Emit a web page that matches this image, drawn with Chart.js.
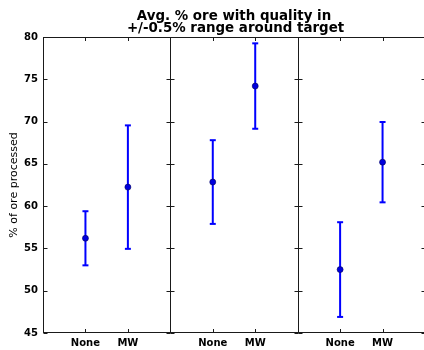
<!DOCTYPE html>
<html>
<head>
<meta charset="utf-8">
<script src="https://cdn.jsdelivr.net/npm/chart.js@4/dist/chart.umd.min.js"></script>
<style>
html,body{margin:0;padding:0;background:#fff;overflow:hidden;}
#wrap{position:relative;width:425px;height:350px;}
</style>
</head>
<body>
<div id="wrap"><canvas id="c"></canvas></div>
<script>
// ---- data ----
const titleLines = ['Avg. % ore with quality in', '+/-0.5% range around target'];
const yLabel = '% of ore processed';
const categories = ['None', 'MW'];
const panels = 3;
const means  = [56.2, 62.25, 62.85, 74.2, 52.5, 65.2];
const errors = [3.2, 7.3, 4.95, 5.05, 5.6, 4.75];
const yTicks = [45, 50, 55, 60, 65, 70, 75, 80];

// positions on a shared linear x axis: panel p occupies [3p-1, 3p+2]
const xPos = [];
const xLab = {};
for (let p = 0; p < panels; p++) {
  categories.forEach((c, i) => { xPos.push(3 * p + i); xLab[3 * p + i] = c; });
}
const boundaries = [];
for (let p = 0; p <= panels; p++) boundaries.push(3 * p - 1);

const meanPts = xPos.map((x, k) => ({x, y: means[k]}));
const barPts = [];
const capPts = [];
xPos.forEach((x, k) => {
  barPts.push({x, y: means[k] - errors[k]}, {x, y: means[k] + errors[k]}, {x, y: null});
  capPts.push({x, y: means[k] - errors[k]}, {x, y: means[k] + errors[k]});
});

const BLUE = '#0000ff';
const FRAME = '#1a1a1a';

const framePlugin = {
  id: 'frame',
  afterDatasetsDraw(chart) {
    const {ctx, chartArea: a, scales: {x, y}} = chart;
    ctx.save();
    ctx.strokeStyle = FRAME;
    ctx.lineWidth = 1;
    const L = 4;
    ctx.beginPath();
    ctx.moveTo(a.left, Math.round(a.top) + 0.5); ctx.lineTo(a.right, Math.round(a.top) + 0.5);
    ctx.moveTo(a.left, Math.round(a.bottom) - 0.5); ctx.lineTo(a.right, Math.round(a.bottom) - 0.5);
    boundaries.forEach((bv, bi) => {
      const px = Math.round(x.getPixelForValue(bv)) + 0.5;
      ctx.moveTo(px, a.top); ctx.lineTo(px, a.bottom);
      yTicks.forEach(t => {
        const py = Math.round(y.getPixelForValue(t)) + 0.5;
        if (bi < boundaries.length - 1) { ctx.moveTo(px, py); ctx.lineTo(px + L, py); }
        if (bi > 0) { ctx.moveTo(px, py); ctx.lineTo(px - L, py); }
      });
    });
    xPos.forEach(v => {
      const px = Math.round(x.getPixelForValue(v)) + 0.5;
      ctx.moveTo(px, a.top); ctx.lineTo(px, a.top + L);
      ctx.moveTo(px, a.bottom); ctx.lineTo(px, a.bottom - L);
    });
    ctx.stroke();
    ctx.fillStyle = '#000';
    ctx.font = 'bold 13.4px "DejaVu Sans"';
    ctx.textAlign = 'center';
    ctx.textBaseline = 'alphabetic';
    const cx = (a.left + a.right) / 2;
    ctx.fillText(titleLines[0], cx, 19.5);
    ctx.fillText(titleLines[1], cx + 1.5, 32);
    ctx.restore();
  }
};

new Chart(document.getElementById('c'), {
  type: 'scatter',
  data: {
    datasets: [
      {type: 'line', data: barPts, borderColor: BLUE, borderWidth: 2, pointRadius: 0, spanGaps: false, fill: false, order: 3},
      {data: capPts, pointStyle: 'line', pointRadius: 3, pointBorderWidth: 2, borderColor: BLUE, backgroundColor: BLUE, order: 2},
      {data: meanPts, pointStyle: 'circle', pointRadius: 3, pointBorderWidth: 0.6, borderColor: '#00005a', backgroundColor: '#0000dd', order: 1}
    ]
  },
  options: {
    responsive: true,
    maintainAspectRatio: false,
    animation: false,
    events: [],
    layout: {autoPadding: false, padding: {top: 37, right: 0, bottom: 0, left: 0}},
    plugins: {legend: {display: false}, tooltip: {enabled: false}, title: {display: false}},
    scales: {
      x: {
        type: 'linear', min: -1, max: 8,
        grid: {display: false, drawTicks: false},
        border: {display: false},
        afterBuildTicks: s => { s.ticks = xPos.map(v => ({value: v})); },
        afterFit: s => { s.height = 17; },
        ticks: {
          callback: v => xLab[v] || '',
          color: '#000', font: {family: 'DejaVu Sans', size: 10, weight: 'bold'},
          padding: 4, maxRotation: 0, autoSkip: false
        }
      },
      y: {
        min: 45, max: 80,
        grid: {display: false, drawTicks: false},
        border: {display: false},
        afterBuildTicks: s => { s.ticks = yTicks.map(v => ({value: v})); },
        afterFit: s => { s.width = 43; },
        ticks: {color: '#000', font: {family: 'DejaVu Sans', size: 10, weight: 'bold'}, padding: 5},
        title: {display: true, text: yLabel, color: '#000', font: {family: 'DejaVu Sans', size: 11}, padding: {top: 8, bottom: 0}}
      }
    }
  },
  plugins: [framePlugin]
});
</script>
</body>
</html>
